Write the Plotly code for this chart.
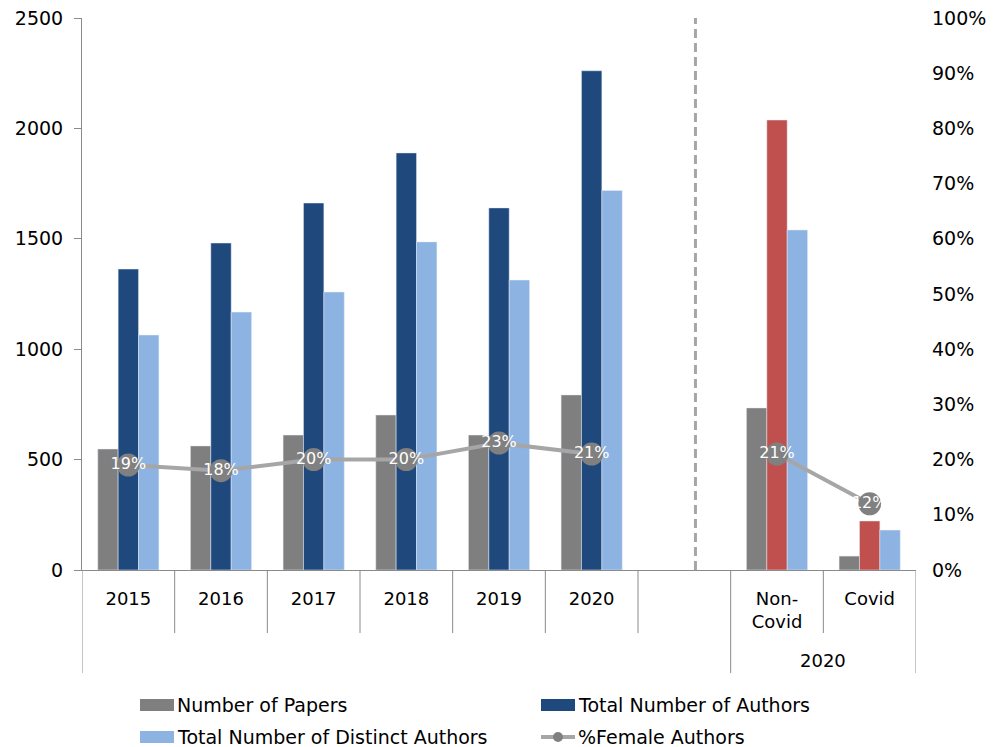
import plotly.graph_objects as go

categories = ["2015", "2016", "2017", "2018", "2019", "2020", " ", "Non-Covid", "Covid"]
tick_labels = ["2015", "2016", "2017", "2018", "2019", "2020", "", "Non-<br>Covid", "Covid"]
papers = [548, 562, 611, 702, 611, 793, None, 734, 63]
total_authors = [1363, 1481, 1662, 1889, 1640, 2261, None, 2038, 222]
distinct_authors = [1064, 1168, 1259, 1486, 1313, 1719, None, 1540, 181]
pct_female = [0.19, 0.18, 0.20, 0.20, 0.23, 0.21, None, 0.21, 0.12]
pct_labels = ["19%", "18%", "20%", "20%", "23%", "21%", "", "21%", "12%"]
group_label = "2020"

# page has an 8px body margin; work in page pixels and convert
OFF = 8
W, H = 994 - OFF, 747 - OFF
L, R, T, B = 82, 916, 18, 570  # plot area in page pixels

GRAY = "#7f7f7f"
DARK = "#1f497d"
LIGHT = "#8db3e2"
RED = "#c0504d"
LINE = "#a6a6a6"
AXIS = "#8a8a8a"
FONT = "DejaVu Sans"
LFONT = "DejaVu Sans"

total_colors = [DARK] * 6 + [DARK, RED, RED]

fig = go.Figure()
fig.add_bar(x=categories, y=papers, marker_color=GRAY, name="Number of Papers", showlegend=False)
fig.add_bar(x=categories, y=total_authors, marker_color=total_colors, name="Total Number of Authors", showlegend=False)
fig.add_bar(x=categories, y=distinct_authors, marker_color=LIGHT, name="Total Number of Distinct Authors", showlegend=False)
fig.add_scatter(x=categories, y=pct_female, yaxis="y2", mode="lines+markers",
                line=dict(color=LINE, width=4), marker=dict(color="#808080", size=23),
                connectgaps=False, showlegend=False, name="%Female Authors")
fig.add_scatter(x=categories, y=pct_female, yaxis="y2", mode="text", text=pct_labels,
                textposition="middle center", textfont=dict(color="white", size=16, family=FONT),
                showlegend=False, hoverinfo="skip")

def px(xp):
    return (xp - L) / (R - L)

def py(yp):
    return (B - yp) / (B - T)

shapes = []
# category dividers
for k in range(len(categories) + 1):
    long = k in (0, 7, 9)
    shapes.append(dict(type="line", xref="x", yref="paper", x0=k - 0.5, x1=k - 0.5,
                       y0=0, y1=py(673 if long else 633), line=dict(color=AXIS, width=1)))
# dashed separator
shapes.append(dict(type="line", xref="x", yref="paper", x0=6.12, x1=6.12, y0=0, y1=1,
                   line=dict(color=LINE, width=3, dash="9px,5px")))

annotations = [dict(text=group_label, xref="x", yref="paper", x=7.5, y=py(660),
                    xanchor="center", yanchor="middle",
                    showarrow=False, font=dict(family=FONT, size=18, color="black"))]

# legend (custom)
legend_items = [
    ("bar", GRAY, "Number of Papers", 140, 705),
    ("bar", DARK, "Total Number of Authors", 541, 705),
    ("bar", LIGHT, "Total Number of Distinct Authors", 140, 737),
    ("line", LINE, "%Female Authors", 541, 737),
]
for kind, col, label, x0, yc in legend_items:
    if kind == "bar":
        shapes.append(dict(type="rect", xref="paper", yref="paper", x0=px(x0), x1=px(x0 + 34),
                           y0=py(yc + 6), y1=py(yc - 6), fillcolor=col, line=dict(width=0)))
    else:
        shapes.append(dict(type="line", xref="paper", yref="paper", x0=px(x0), x1=px(x0 + 34),
                           y0=py(yc), y1=py(yc), line=dict(color=col, width=4)))
        shapes.append(dict(type="circle", xref="paper", yref="paper", x0=px(x0 + 12), x1=px(x0 + 22),
                           y0=py(yc + 5), y1=py(yc - 5), fillcolor="#808080", line=dict(width=0)))
    annotations.append(dict(text=label, xref="paper", yref="paper", x=px(x0 + 35), y=py(yc),
                            xanchor="left", yanchor="middle", showarrow=False,
                            font=dict(family=LFONT, size=19, color="black")))

fig.update_layout(
    width=W, height=H,
    margin=dict(l=L - OFF, r=994 - R, t=T - OFF, b=747 - B),
    plot_bgcolor="white", paper_bgcolor="white",
    barmode="group", bargap=0.34, bargroupgap=0,
    font=dict(family=FONT, size=18, color="black"),
    showlegend=False,
    xaxis=dict(type="category", categoryorder="array", categoryarray=categories,
               tickmode="array", tickvals=categories, ticktext=tick_labels,
               showline=True, linecolor=AXIS, linewidth=1, ticks="", showgrid=False,
               range=[-0.5, 8.5], ticklabelstandoff=12, tickfont=dict(size=18),
               automargin=False, ticklabeloverflow="allow"),
    yaxis=dict(range=[0, 2500], dtick=500, showline=True, linecolor=AXIS, linewidth=1,
               ticks="outside", ticklen=7, tickcolor=AXIS, showgrid=False, zeroline=False,
               ticklabelstandoff=7, tickfont=dict(size=19), automargin=False,
               ticklabeloverflow="allow"),
    yaxis2=dict(range=[0, 1], dtick=0.1, tickformat=".0%", overlaying="y", side="right",
                showline=False, ticks="", showgrid=False, zeroline=False,
                ticklabelstandoff=15, tickfont=dict(size=19), automargin=False,
                ticklabeloverflow="allow"),
    shapes=shapes, annotations=annotations,
)

fig.write_html("out.html")
